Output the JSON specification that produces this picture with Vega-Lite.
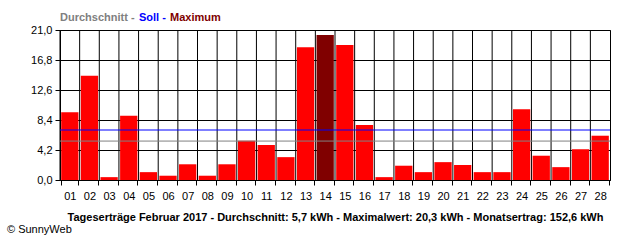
{
  "$schema": "https://vega.github.io/schema/vega-lite/v6.json",
  "width": 550,
  "height": 150,
  "autosize": {"type": "none"},
  "padding": {"left": 60, "top": 30, "right": 30, "bottom": 60},
  "background": "white",
  "config": {
    "font": "Liberation Sans",
    "view": {"stroke": "black", "strokeWidth": 1},
    "axis": {
      "labelFont": "Liberation Sans",
      "labelFontSize": 11,
      "labelColor": "black",
      "titleFont": "Liberation Sans",
      "titleColor": "black",
      "domainColor": "black",
      "tickColor": "black",
      "gridColor": "black",
      "gridOpacity": 1,
      "gridWidth": 1,
      "tickSize": 5,
      "labelOverlap": false
    }
  },
  "title": {
    "text": "© SunnyWeb",
    "orient": "bottom",
    "anchor": "start",
    "frame": "group",
    "dx": -53,
    "offset": 2,
    "font": "Liberation Sans",
    "fontSize": 11,
    "fontWeight": "normal",
    "color": "black"
  },
  "data": {
    "values": [
      {"tag": "01", "kwh": 9.5, "typ": "Tag"},
      {"tag": "02", "kwh": 14.6, "typ": "Tag"},
      {"tag": "03", "kwh": 0.4, "typ": "Tag"},
      {"tag": "04", "kwh": 9.0, "typ": "Tag"},
      {"tag": "05", "kwh": 1.1, "typ": "Tag"},
      {"tag": "06", "kwh": 0.6, "typ": "Tag"},
      {"tag": "07", "kwh": 2.2, "typ": "Tag"},
      {"tag": "08", "kwh": 0.6, "typ": "Tag"},
      {"tag": "09", "kwh": 2.2, "typ": "Tag"},
      {"tag": "10", "kwh": 5.5, "typ": "Tag"},
      {"tag": "11", "kwh": 4.9, "typ": "Tag"},
      {"tag": "12", "kwh": 3.2, "typ": "Tag"},
      {"tag": "13", "kwh": 18.6, "typ": "Tag"},
      {"tag": "14", "kwh": 20.3, "typ": "Maximum"},
      {"tag": "15", "kwh": 18.9, "typ": "Tag"},
      {"tag": "16", "kwh": 7.7, "typ": "Tag"},
      {"tag": "17", "kwh": 0.4, "typ": "Tag"},
      {"tag": "18", "kwh": 2.0, "typ": "Tag"},
      {"tag": "19", "kwh": 1.1, "typ": "Tag"},
      {"tag": "20", "kwh": 2.5, "typ": "Tag"},
      {"tag": "21", "kwh": 2.1, "typ": "Tag"},
      {"tag": "22", "kwh": 1.1, "typ": "Tag"},
      {"tag": "23", "kwh": 1.1, "typ": "Tag"},
      {"tag": "24", "kwh": 9.9, "typ": "Tag"},
      {"tag": "25", "kwh": 3.4, "typ": "Tag"},
      {"tag": "26", "kwh": 1.8, "typ": "Tag"},
      {"tag": "27", "kwh": 4.3, "typ": "Tag"},
      {"tag": "28", "kwh": 6.2, "typ": "Tag"}
    ]
  },
  "layer": [
    {
      "mark": {"type": "rule", "color": "black", "strokeWidth": 1},
      "encoding": {
        "x": {
          "field": "tag",
          "type": "ordinal",
          "bandPosition": -0.068,
          "scale": {"paddingInner": 0.12, "paddingOuter": 0.06},
          "axis": {
            "title": "Tageserträge Februar 2017 - Durchschnitt: 5,7 kWh - Maximalwert: 20,3 kWh - Monatsertrag: 152,6 kWh",
            "titleFontSize": 11,
            "titleFontWeight": "bold",
            "titlePadding": 10,
            "labelAngle": 0,
            "labelPadding": 5,
            "bandPosition": 0.5,
            "tickBand": "extent",
            "ticks": true,
            "grid": false
          }
        }
      }
    },
    {
      "mark": {"type": "bar"},
      "encoding": {
        "x": {
          "field": "tag",
          "type": "ordinal",
          "scale": {"paddingInner": 0.12, "paddingOuter": 0.06},
          "axis": {
            "title": "Tageserträge Februar 2017 - Durchschnitt: 5,7 kWh - Maximalwert: 20,3 kWh - Monatsertrag: 152,6 kWh",
            "titleFontSize": 11,
            "titleFontWeight": "bold",
            "titlePadding": 10,
            "labelAngle": 0,
            "labelPadding": 5,
            "bandPosition": 0.5,
            "tickBand": "extent",
            "ticks": true,
            "grid": false
          }
        },
        "y": {
          "field": "kwh",
          "type": "quantitative",
          "scale": {"domain": [0, 21], "nice": false, "zero": true},
          "axis": {
            "title": null,
            "values": [0, 4.2, 8.4, 12.6, 16.8, 21],
            "tickCount": 10,
            "labelExpr": "replace(format(datum.value, '.1f'), '.', ',')",
            "labelPadding": 3,
            "grid": true
          }
        },
        "color": {
          "field": "typ",
          "type": "nominal",
          "scale": {
            "domain": ["Durchschnitt", "Soll", "Maximum", "Tag"],
            "range": ["#808080", "#0000ff", "#800000", "#ff0000"]
          },
          "legend": {
            "values": ["Durchschnitt", "Soll", "Maximum"],
            "title": null,
            "orient": "top",
            "direction": "horizontal",
            "columns": 3,
            "gridAlign": "each",
            "offset": 7,
            "padding": 0,
            "symbolType": "circle",
            "symbolSize": 0,
            "symbolOpacity": 0,
            "symbolStrokeWidth": 0,
            "labelOffset": -11,
            "columnPadding": 4,
            "labelLimit": 300,
            "labelFont": "Liberation Sans",
            "labelFontSize": 11,
            "labelFontWeight": "bold",
            "labelExpr": "datum.label == 'Maximum' ? datum.label : datum.label + ' -'",
            "encode": {
              "labels": {"update": {"fill": {"scale": "color", "field": "value"}}}
            }
          }
        }
      }
    },
    {
      "data": {
        "values": [
          {"reihe": "Durchschnitt", "wert": 5.45},
          {"reihe": "Soll", "wert": 7.0}
        ]
      },
      "mark": {"type": "rule", "strokeWidth": 1},
      "encoding": {
        "y": {"field": "wert", "type": "quantitative"},
        "color": {"field": "reihe", "type": "nominal"}
      }
    }
  ]
}
